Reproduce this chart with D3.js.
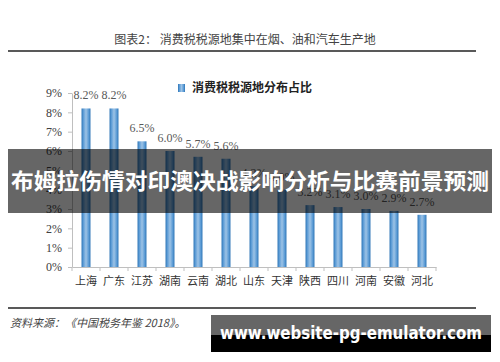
<!DOCTYPE html>
<html><head><meta charset="utf-8">
<script src="https://cdn.jsdelivr.net/npm/d3@7/dist/d3.min.js"></script>
<style>body{margin:0;background:#fff}svg{display:block}</style>
</head><body>
<svg id="c" width="500" height="362"></svg>
<script>
const categories = ["上海","广东","江苏","湖南","云南","湖北","山东","天津","陕西","四川","河南","安徽","河北"];
const values = [8.2, 8.2, 6.5, 6.0, 5.7, 5.6, 4.2, 4.0, 3.2, 3.1, 3.0, 2.9, 2.7];
const yTicks = [0,1,2,3,4,5,6,7,8,9];
const seriesName = "消费税税源地分布占比";
const titleText = "图表2：  消费税税源地集中在烟、油和汽车生产地";
const sourceText = "资料来源：《中国税务年鉴 2018》。";
const bannerText = "布姆拉伤情对印澳决战影响分析与比赛前景预测";
const watermarkText = "www.website-pg-emulator.com";

const svg = d3.select("#c");
const defs = svg.append("defs");
const g = defs.append("linearGradient").attr("id","barg").attr("x1","0").attr("x2","1").attr("y1","0").attr("y2","0");
g.append("stop").attr("offset","0").attr("stop-color","#2E75B6");
g.append("stop").attr("offset","0.2").attr("stop-color","#5B9BD5");
g.append("stop").attr("offset","0.5").attr("stop-color","#9DC3E6");
g.append("stop").attr("offset","0.8").attr("stop-color","#5B9BD5");
g.append("stop").attr("offset","1").attr("stop-color","#2E75B6");

// title
svg.append("text").attr("x",245).attr("y",44).attr("text-anchor","middle")
  .attr("font-family","'Noto Sans CJK SC'").attr("font-size",12).attr("fill","#444")
  .text(titleText);
svg.append("line").attr("x1",8).attr("x2",476).attr("y1",51).attr("y2",51).attr("stroke","#222").attr("stroke-width",1.6);

const x = d3.scaleBand().domain(categories).range([72,436]).paddingInner(0.68).paddingOuter(0.34);
const y = d3.scaleLinear().domain([0,9]).range([267,93]);

// y axis
const ya = svg.append("g").attr("transform","translate(72,0)")
  .call(d3.axisLeft(y).tickValues(yTicks).tickFormat(d=>d+"%").tickSize(4).tickSizeOuter(0));
ya.select(".domain").attr("stroke","#bfbfbf");
ya.selectAll(".tick line").attr("stroke","#bfbfbf");
ya.selectAll("text").attr("font-family","'Liberation Serif'").attr("font-size",12).attr("fill","#404040").attr("x",-10);

// x axis
const xa = svg.append("g").attr("transform","translate(0,267)")
  .call(d3.axisBottom(x).tickSize(0).tickSizeOuter(0));
xa.select(".domain").attr("stroke","#bfbfbf");
xa.selectAll("text").attr("font-family","'Noto Sans CJK SC'").attr("font-size",11).attr("fill","#333").attr("dy","1.35em");
// boundary ticks
const step = x.step();
svg.append("g").selectAll("line").data(d3.range(categories.length+1)).join("line")
  .attr("x1",i=>72+i*step).attr("x2",i=>72+i*step).attr("y1",267).attr("y2",271)
  .attr("stroke","#bfbfbf");

// bars
svg.append("g").selectAll("rect").data(values).join("rect")
  .attr("x",(d,i)=>x(categories[i])).attr("width",x.bandwidth())
  .attr("y",d=>y(d)).attr("height",d=>y(0)-y(d))
  .attr("fill","url(#barg)");
svg.append("g").selectAll("text").data(values).join("text")
  .attr("x",(d,i)=>x(categories[i])+x.bandwidth()/2).attr("y",d=>y(d)-9)
  .attr("text-anchor","middle").attr("font-family","'Liberation Serif'").attr("font-size",12).attr("fill","#595959")
  .text(d=>d.toFixed(1)+"%");

// legend
svg.append("rect").attr("x",178).attr("y",84).attr("width",7).attr("height",8).attr("fill","url(#barg)");
svg.append("text").attr("x",192).attr("y",92).attr("font-family","'Noto Sans CJK SC'").attr("font-weight","bold")
  .attr("font-size",12).attr("fill","#222").text(seriesName);

// bottom rule and source
svg.append("line").attr("x1",8).attr("x2",476).attr("y1",308).attr("y2",308).attr("stroke","#222").attr("stroke-width",1.6);
svg.append("text").attr("x",10).attr("y",327).attr("font-family","'Noto Sans CJK SC'").attr("font-style","italic")
  .attr("font-size",11).attr("fill","#444").text(sourceText);

// banner overlay
svg.append("rect").attr("x",8).attr("y",149).attr("width",484).attr("height",64).attr("fill","rgba(0,0,0,0.6)");
svg.append("text").attr("x",250).attr("y",189).attr("text-anchor","middle").attr("font-family","'Noto Sans CJK SC'")
  .attr("font-weight","bold").attr("font-size",22).attr("fill","#fff").attr("textLength",478).attr("lengthAdjust","spacingAndGlyphs")
  .text(bannerText);

// watermark
svg.append("rect").attr("x",211).attr("y",315).attr("width",280).attr("height",20).attr("fill","#666");
svg.append("rect").attr("x",211).attr("y",335).attr("width",280).attr("height",17).attr("fill","#000");
svg.append("text").attr("x",351).attr("y",339).attr("text-anchor","middle").attr("font-family","'DejaVu Sans'")
  .attr("font-weight","bold").attr("font-size",17).attr("fill","#fff").attr("textLength",262).attr("lengthAdjust","spacingAndGlyphs")
  .text(watermarkText);
</script>
</body></html>
